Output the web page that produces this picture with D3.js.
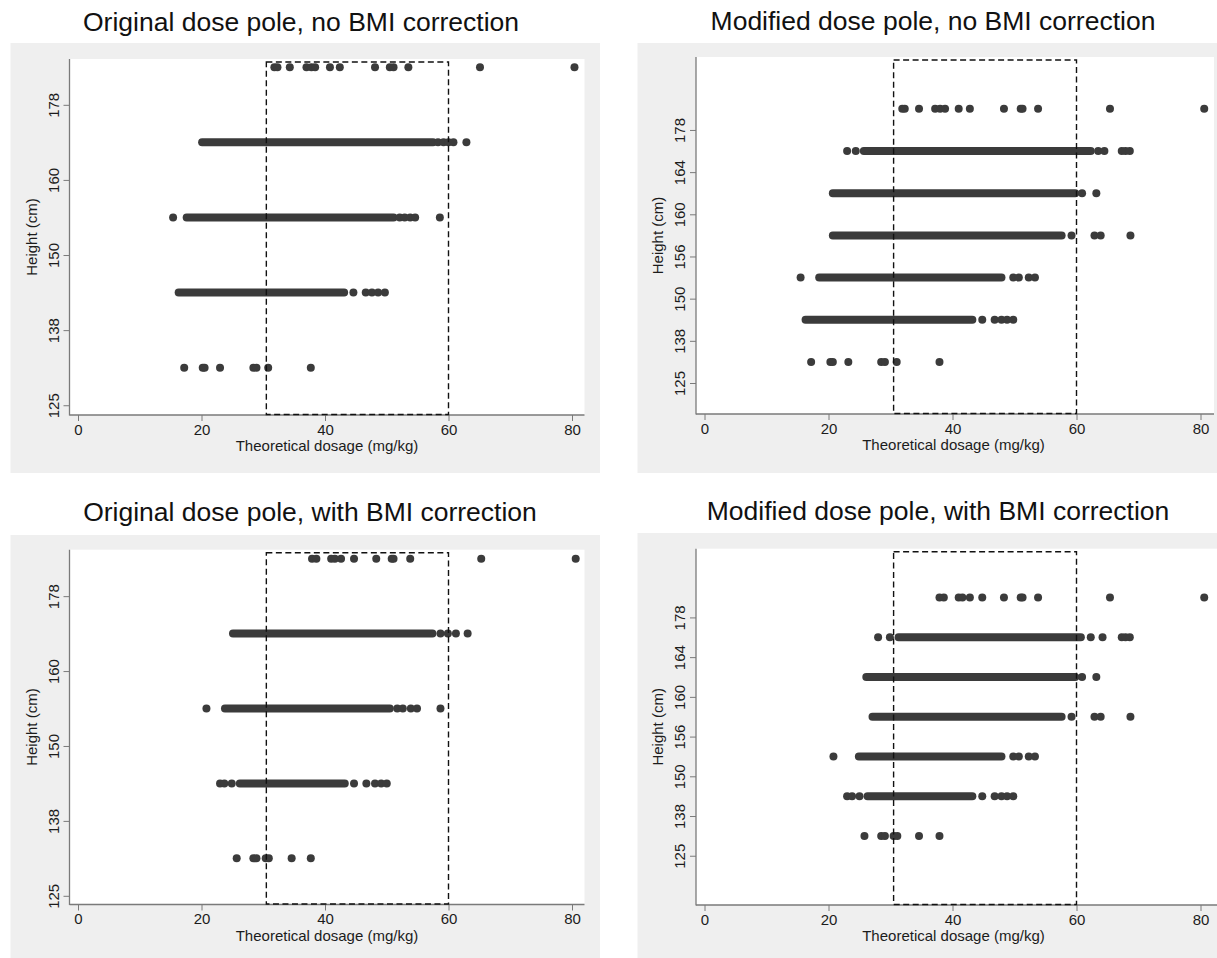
<!DOCTYPE html>
<html>
<head>
<meta charset="utf-8">
<script src="https://cdn.jsdelivr.net/npm/d3@7"></script>
<style>
  body { margin: 0; background: #fff; }
  svg { display: block; font-family: "Liberation Sans", Arial, Helvetica, sans-serif; }
</style>
</head>
<body>
<div id="chart"></div>
<script>

var titles = [
  "Original dose pole, no BMI correction",
  "Modified dose pole, no BMI correction",
  "Original dose pole, with BMI correction",
  "Modified dose pole, with BMI correction"
];
var xTicks = [0, 20, 40, 60, 80];
var origHeights = ["125", "138", "150", "160", "178"];
var modHeights = ["125", "138", "150", "156", "160", "164", "178"];
var targetDose = [30.5, 60];   // mg/kg, the dashed box

// rows go bottom -> top, one per height band
// runs = stretch where the points overlap into a solid bar (from, to), null = none
var origNoBmiRuns = [null, [16.3, 43.1], [17.6, 51.1], [20.1, 57.5], null];
var origNoBmiDots = [
  [17.2, 20.2, 20.5, 23.0, 28.4, 28.9, 30.8, 37.7],
  [44.6, 46.6, 47.6, 48.6, 49.7],
  [15.4, 52.1, 52.9, 53.8, 54.6, 58.6],
  [58.3, 59.2, 60.0, 60.8, 62.9],
  [31.8, 32.3, 34.3, 37.0, 37.8, 38.4, 40.8, 42.4, 48.1, 50.5, 51.1, 53.5, 65.1, 80.4]
];

var modNoBmiRuns = [null, [16.3, 43.2], [18.5, 47.9], [20.7, 57.6], [20.7, 59.8], [25.7, 62.3], null];
var modNoBmiDots = [
  [17.2, 20.3, 20.7, 23.2, 28.5, 29.1, 31.0, 37.9],
  [44.8, 46.8, 47.9, 48.8, 49.8],
  [15.5, 49.8, 50.7, 52.3, 53.3],
  [59.2, 62.9, 63.9, 68.7],
  [60.9, 63.2],
  [23.0, 24.4, 63.5, 64.5, 67.3, 67.9, 68.6],
  [31.9, 32.3, 34.6, 37.2, 38.0, 38.8, 41.0, 42.8, 48.3, 51.0, 51.3, 53.8, 65.4, 80.6]
];

var origBmiRuns = [null, [26.2, 43.2], [23.8, 50.5], [25.1, 57.4], null];
var origBmiDots = [
  [25.7, 28.4, 28.9, 30.4, 30.9, 34.6, 37.7],
  [23.0, 23.7, 24.9, 44.7, 46.7, 48.1, 49.1, 50.0],
  [20.8, 51.7, 52.6, 53.9, 54.9, 58.7],
  [58.7, 59.9, 61.2, 63.1],
  [37.9, 38.6, 41.0, 41.6, 42.6, 44.7, 48.3, 50.8, 51.1, 53.8, 65.3, 80.6]
];

var modBmiRuns = [null, [26.3, 43.2], [24.9, 47.9], [27.1, 57.6], [26.1, 59.8], [31.3, 60.7], null];
var modBmiDots = [
  [25.8, 28.5, 29.1, 30.5, 31.1, 34.6, 37.9],
  [23.0, 23.8, 25.0, 44.8, 46.8, 47.9, 48.8, 49.8],
  [20.8, 49.8, 50.7, 52.3, 53.3],
  [59.2, 62.9, 63.9, 68.7],
  [60.9, 63.2],
  [28.0, 29.9, 62.3, 64.2, 67.3, 67.9, 68.6],
  [37.9, 38.6, 41.0, 41.6, 42.8, 44.8, 48.3, 51.0, 51.3, 53.8, 65.4, 80.6]
];

var dotColor = "#3b3b3b";
var axisColor = "#7a7a7a";

// layout of each stata graph (pixels)
var panels = [
  { title: titles[0], labels: origHeights, runs: origNoBmiRuns, dots: origNoBmiDots,
    bg: [10.5, 43, 600, 473], plot: [69.5, 59, 584.5, 415], yDom: [-0.13, 4.61],
    xr: [78, 572], tx: 301, ty: 31 },
  { title: titles[1], labels: modHeights, runs: modNoBmiRuns, dots: modNoBmiDots,
    bg: [637.5, 43, 1217, 473], plot: [696, 57, 1214, 414], yDom: [-0.735, 7.73],
    xr: [704.5, 1200.5], tx: 933, ty: 30 },
  { title: titles[2], labels: origHeights, runs: origBmiRuns, dots: origBmiDots,
    bg: [10.5, 535, 600, 958], plot: [69.5, 549.7, 584.5, 904.5], yDom: [-0.116, 4.62],
    xr: [78, 572], tx: 310, ty: 521 },
  { title: titles[3], labels: modHeights, runs: modBmiRuns, dots: modBmiDots,
    bg: [637.5, 533, 1217, 958], plot: [696, 548.7, 1217, 905], yDom: [-1.24, 7.73],
    xr: [704.5, 1200.5], tx: 938, ty: 520 }
];

var svg = d3.select("#chart")
  .append("svg")
    .attr("width", 1217)
    .attr("height", 958);

panels.forEach(drawPanel);

function drawPanel(p) {
  var g = svg.append("g");

  g.append("rect")
    .attr("x", p.bg[0]).attr("y", p.bg[1])
    .attr("width", p.bg[2] - p.bg[0]).attr("height", p.bg[3] - p.bg[1])
    .attr("fill", "#efefef");
  g.append("rect")
    .attr("x", p.plot[0]).attr("y", p.plot[1])
    .attr("width", p.plot[2] - p.plot[0]).attr("height", p.plot[3] - p.plot[1])
    .attr("fill", "#fff");

  var x = d3.scaleLinear().domain([0, 80]).range(p.xr);
  var y = d3.scaleLinear().domain(p.yDom).range([p.plot[3], p.plot[1]]);

  // solid runs of overlapping markers
  g.selectAll(".run")
    .data(p.runs.map(function(r, i) { return r ? { r: r, row: i } : null; })
      .filter(function(d) { return d; }))
    .enter().append("line")
      .attr("class", "run")
      .attr("x1", function(d) { return x(d.r[0]); })
      .attr("x2", function(d) { return x(d.r[1]); })
      .attr("y1", function(d) { return y(d.row + 0.5); })
      .attr("y2", function(d) { return y(d.row + 0.5); })
      .attr("stroke", dotColor)
      .attr("stroke-width", 8)
      .attr("stroke-linecap", "round");

  var pts = [];
  p.dots.forEach(function(row, i) {
    row.forEach(function(v) { pts.push({ v: v, row: i }); });
  });
  g.selectAll(".dot")
    .data(pts)
    .enter().append("circle")
      .attr("class", "dot")
      .attr("cx", function(d) { return x(d.v); })
      .attr("cy", function(d) { return y(d.row + 0.5); })
      .attr("r", 4)
      .attr("fill", dotColor);

  // axes
  var gx = g.append("g")
    .attr("transform", "translate(0," + p.plot[3] + ")")
    .call(d3.axisBottom(x).tickValues(xTicks).tickSize(6).tickPadding(3));
  gx.attr("font-size", 15).attr("font-family", null);
  gx.select(".domain").remove();
  gx.selectAll("line").attr("stroke", axisColor);
  gx.selectAll("text").attr("fill", "#1c1c1c");

  var gy = g.append("g")
    .attr("transform", "translate(" + p.plot[0] + ",0)")
    .call(d3.axisLeft(y)
      .tickValues(d3.range(p.labels.length))
      .tickFormat(function(i) { return p.labels[i]; })
      .tickSize(6));
  gy.attr("font-size", 15).attr("font-family", null);
  gy.select(".domain").remove();
  gy.selectAll("line").attr("stroke", axisColor);
  gy.selectAll("text")
    .attr("transform", "rotate(-90)")
    .attr("x", 0)
    .attr("y", -11)
    .attr("dy", null)
    .attr("text-anchor", "middle")
    .attr("fill", "#1c1c1c");

  g.append("line")
    .attr("x1", p.plot[0]).attr("x2", p.plot[0])
    .attr("y1", p.plot[1]).attr("y2", p.plot[3] + 0.5)
    .attr("stroke", axisColor).attr("stroke-width", 1.3);
  g.append("line")
    .attr("x1", p.plot[0]).attr("x2", p.plot[2])
    .attr("y1", p.plot[3]).attr("y2", p.plot[3])
    .attr("stroke", axisColor).attr("stroke-width", 1.3);

  // target dose box
  g.append("rect")
    .attr("x", x(targetDose[0]))
    .attr("y", p.plot[1] + 3)
    .attr("width", x(targetDose[1]) - x(targetDose[0]))
    .attr("height", p.plot[3] - p.plot[1] - 3.5)
    .attr("fill", "none")
    .attr("stroke", "#111")
    .attr("stroke-width", 1.4)
    .attr("stroke-dasharray", "6,3.5");

  // labels
  g.append("text")
    .attr("x", (p.plot[0] + Math.min(p.plot[2], 584.5 + (p.plot[0] - 69.5))) / 2)
    .attr("y", p.plot[3] + 36)
    .attr("text-anchor", "middle")
    .attr("font-size", 15)
    .attr("fill", "#1c1c1c")
    .text("Theoretical dosage (mg/kg)");

  g.append("text")
    .attr("transform", "translate(" + (p.plot[0] - 33) + "," + ((p.plot[1] + p.plot[3]) / 2) + ") rotate(-90)")
    .attr("text-anchor", "middle")
    .attr("font-size", 15)
    .attr("fill", "#1c1c1c")
    .text("Height (cm)");

  g.append("text")
    .attr("x", p.tx)
    .attr("y", p.ty)
    .attr("text-anchor", "middle")
    .attr("font-size", 26.5)
    .attr("fill", "#111")
    .text(p.title);
}

</script>
</body>
</html>
